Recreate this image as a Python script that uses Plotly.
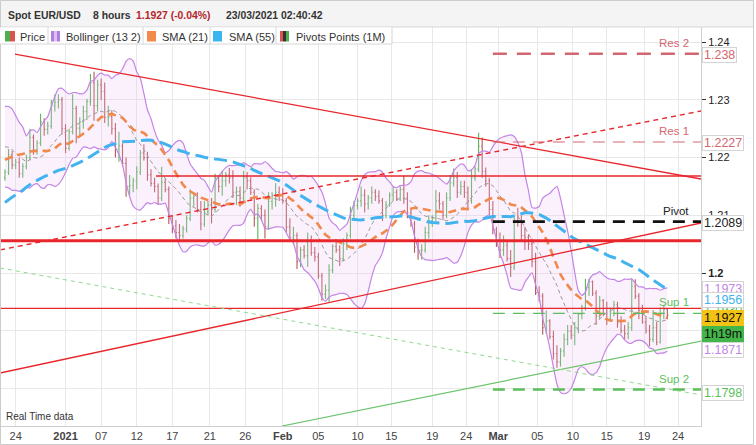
import plotly.graph_objects as go
import pandas as pd
import numpy as np

# ---------------- DATA (8-hour bars, EUR/USD) ----------------
# Dec23 Dec24 | Dec28..Dec31 | Jan4..8 | Jan11..15 | Jan18..22 | Jan25..29 | Feb1..5 | Feb8..12 | Feb15..19 | Feb22..26 | Mar1..5 | Mar8..12 | Mar15..19 | Mar22 Mar23
open_ = [
    1.2165, 1.2175, 1.2205,  1.2187, 1.2192, 1.2172,
    1.2185, 1.2200, 1.2235,  1.2214, 1.2225, 1.2262,  1.2249, 1.2255, 1.2290,  1.2296, 1.2300, 1.2250,
    1.2216, 1.2245, 1.2285,  1.2251, 1.2262, 1.2280,  1.2297, 1.2330, 1.2290,  1.2326, 1.2315, 1.2270,  1.2271, 1.2250, 1.2215,
    1.2220, 1.2190, 1.2150,  1.2152, 1.2160, 1.2175,  1.2208, 1.2200, 1.2170,  1.2155, 1.2150, 1.2130,  1.2157, 1.2145, 1.2095,
    1.2082, 1.2070, 1.2065,  1.2076, 1.2095, 1.2130,  1.2133, 1.2110, 1.2085,  1.2106, 1.2118, 1.2110,  1.2165, 1.2150, 1.2160,
    1.2170, 1.2165, 1.2140,  1.2141, 1.2130, 1.2165,  1.2160, 1.2140, 1.2095,  1.2112, 1.2100, 1.2080,  1.2124, 1.2135, 1.2140,
    1.2136, 1.2125, 1.2080,  1.2061, 1.2065, 1.2020,  1.2040, 1.2030, 1.2055,  1.2035, 1.2028, 1.1995,  1.1963, 1.1970, 1.2005,
    1.2046, 1.2040, 1.2025,  1.2050, 1.2065, 1.2100,  1.2117, 1.2125, 1.2135,  1.2120, 1.2130, 1.2140,  1.2133, 1.2125, 1.2100,
    1.2118, 1.2135, 1.2140,  1.2130, 1.2145, 1.2130,  1.2104, 1.2085, 1.2045,  1.2039, 1.2040, 1.2070,  1.2091, 1.2095, 1.2125,
    1.2120, 1.2100, 1.2130,  1.2156, 1.2165, 1.2140,  1.2150, 1.2140, 1.2125,  1.2165, 1.2180, 1.2220,  1.2176, 1.2160, 1.2110,
    1.2075, 1.2055, 1.2040,  1.2048, 1.2025, 1.2010,  1.2091, 1.2090, 1.2065,  1.2062, 1.2050, 1.2020,  1.1966, 1.1960, 1.1905,
    1.1917, 1.1890, 1.1860,  1.1846, 1.1865, 1.1885,  1.1899, 1.1892, 1.1905,  1.1928, 1.1940, 1.1975,  1.1985, 1.1965, 1.1925,
    1.1952, 1.1930, 1.1920,  1.1930, 1.1945, 1.1915,  1.1900, 1.1895, 1.1905,  1.1977, 1.1960, 1.1935,  1.1915, 1.1900, 1.1885,
    1.1905, 1.1880, 1.1930,  1.1937,
]
high_ = [
    1.2180, 1.2215, 1.2212,  1.2198, 1.2200, 1.2190,
    1.2205, 1.2250, 1.2240,  1.2230, 1.2276, 1.2268,  1.2262, 1.2300, 1.2310,  1.2310, 1.2305, 1.2258,
    1.2250, 1.2310, 1.2290,  1.2270, 1.2290, 1.2302,  1.2345, 1.2349, 1.2335,  1.2337, 1.2330, 1.2290,  1.2282, 1.2260, 1.2245,
    1.2225, 1.2200, 1.2170,  1.2165, 1.2185, 1.2213,  1.2223, 1.2210, 1.2180,  1.2165, 1.2155, 1.2184,  1.2164, 1.2150, 1.2100,
    1.2092, 1.2085, 1.2082,  1.2100, 1.2145, 1.2140,  1.2140, 1.2125, 1.2125,  1.2125, 1.2130, 1.2172,  1.2170, 1.2177, 1.2175,
    1.2182, 1.2178, 1.2150,  1.2150, 1.2177, 1.2175,  1.2166, 1.2145, 1.2120,  1.2118, 1.2110, 1.2140,  1.2140, 1.2156, 1.2150,
    1.2147, 1.2130, 1.2095,  1.2080, 1.2070, 1.2045,  1.2048, 1.2070, 1.2065,  1.2045, 1.2035, 1.2000,  1.1980, 1.2015, 1.2050,
    1.2058, 1.2048, 1.2060,  1.2070, 1.2115, 1.2125,  1.2130, 1.2150, 1.2145,  1.2135, 1.2150, 1.2145,  1.2143, 1.2130, 1.2125,
    1.2140, 1.2150, 1.2145,  1.2150, 1.2169, 1.2140,  1.2110, 1.2090, 1.2060,  1.2050, 1.2080, 1.2100,  1.2100, 1.2144, 1.2140,
    1.2125, 1.2140, 1.2170,  1.2181, 1.2175, 1.2160,  1.2160, 1.2150, 1.2180,  1.2185, 1.2243, 1.2235,  1.2183, 1.2165, 1.2125,
    1.2080, 1.2070, 1.2065,  1.2055, 1.2040, 1.2100,  1.2113, 1.2100, 1.2080,  1.2067, 1.2060, 1.2035,  1.1977, 1.1965, 1.1935,
    1.1920, 1.1900, 1.1875,  1.1870, 1.1895, 1.1910,  1.1910, 1.1915, 1.1930,  1.1945, 1.1990, 1.1990,  1.1987, 1.1970, 1.1960,
    1.1955, 1.1950, 1.1940,  1.1952, 1.1950, 1.1925,  1.1910, 1.1915, 1.1990,  1.1989, 1.1965, 1.1945,  1.1925, 1.1910, 1.1936,
    1.1915, 1.1940, 1.1945,  1.1939,
]
low_ = [
    1.2160, 1.2170, 1.2180,  1.2180, 1.2165, 1.2165,
    1.2180, 1.2195, 1.2205,  1.2205, 1.2220, 1.2238,  1.2240, 1.2250, 1.2280,  1.2285, 1.2240, 1.2208,
    1.2212, 1.2240, 1.2225,  1.2238, 1.2250, 1.2265,  1.2290, 1.2264, 1.2280,  1.2300, 1.2260, 1.2254,  1.2240, 1.2200, 1.2193,
    1.2185, 1.2132, 1.2135,  1.2140, 1.2145, 1.2170,  1.2195, 1.2160, 1.2150,  1.2140, 1.2118, 1.2125,  1.2140, 1.2085, 1.2069,
    1.2060, 1.2054, 1.2060,  1.2070, 1.2090, 1.2115,  1.2105, 1.2074, 1.2080,  1.2100, 1.2086, 1.2105,  1.2140, 1.2134, 1.2150,
    1.2155, 1.2130, 1.2118,  1.2115, 1.2125, 1.2145,  1.2135, 1.2080, 1.2058,  1.2090, 1.2060, 1.2075,  1.2110, 1.2115, 1.2125,
    1.2120, 1.2070, 1.2055,  1.2050, 1.2007, 1.2010,  1.2025, 1.2011, 1.2030,  1.2020, 1.1990, 1.1952,  1.1955, 1.1950, 1.2000,
    1.2035, 1.2012, 1.2020,  1.2040, 1.2060, 1.2095,  1.2110, 1.2115, 1.2105,  1.2110, 1.2120, 1.2125,  1.2120, 1.2090, 1.2095,
    1.2115, 1.2125, 1.2125,  1.2125, 1.2120, 1.2095,  1.2080, 1.2035, 1.2023,  1.2023, 1.2035, 1.2060,  1.2080, 1.2090, 1.2110,
    1.2092, 1.2095, 1.2125,  1.2150, 1.2130, 1.2135,  1.2130, 1.2110, 1.2120,  1.2160, 1.2175, 1.2165,  1.2150, 1.2100, 1.2067,
    1.2045, 1.2026, 1.2030,  1.2020, 1.1993, 1.2005,  1.2080, 1.2055, 1.2040,  1.2040, 1.2010, 1.1962,  1.1950, 1.1893, 1.1895,
    1.1885, 1.1850, 1.1836,  1.1838, 1.1855, 1.1875,  1.1885, 1.1875, 1.1895,  1.1920, 1.1935, 1.1960,  1.1960, 1.1910, 1.1920,
    1.1925, 1.1910, 1.1915,  1.1925, 1.1905, 1.1895,  1.1885, 1.1885, 1.1900,  1.1955, 1.1920, 1.1912,  1.1895, 1.1873, 1.1880,
    1.1875, 1.1878, 1.1920,  1.1920,
]
close_ = [
    1.2175, 1.2205, 1.2187,  1.2192, 1.2172, 1.2185,
    1.2200, 1.2235, 1.2214,  1.2225, 1.2262, 1.2249,  1.2255, 1.2290, 1.2296,  1.2300, 1.2250, 1.2216,
    1.2245, 1.2285, 1.2251,  1.2262, 1.2280, 1.2297,  1.2330, 1.2290, 1.2326,  1.2315, 1.2270, 1.2271,  1.2250, 1.2215, 1.2220,
    1.2190, 1.2150, 1.2152,  1.2160, 1.2175, 1.2208,  1.2200, 1.2170, 1.2155,  1.2150, 1.2130, 1.2157,  1.2145, 1.2095, 1.2082,
    1.2070, 1.2065, 1.2076,  1.2095, 1.2130, 1.2133,  1.2110, 1.2085, 1.2106,  1.2118, 1.2110, 1.2165,  1.2150, 1.2160, 1.2170,
    1.2165, 1.2140, 1.2141,  1.2130, 1.2165, 1.2160,  1.2140, 1.2095, 1.2112,  1.2100, 1.2080, 1.2124,  1.2135, 1.2140, 1.2136,
    1.2125, 1.2080, 1.2061,  1.2065, 1.2020, 1.2040,  1.2030, 1.2055, 1.2035,  1.2028, 1.1995, 1.1963,  1.1970, 1.2005, 1.2046,
    1.2040, 1.2025, 1.2050,  1.2065, 1.2100, 1.2117,  1.2125, 1.2135, 1.2120,  1.2130, 1.2140, 1.2133,  1.2125, 1.2100, 1.2118,
    1.2135, 1.2140, 1.2130,  1.2145, 1.2130, 1.2104,  1.2085, 1.2045, 1.2039,  1.2040, 1.2070, 1.2091,  1.2095, 1.2125, 1.2120,
    1.2100, 1.2130, 1.2156,  1.2165, 1.2140, 1.2150,  1.2140, 1.2125, 1.2165,  1.2180, 1.2220, 1.2176,  1.2160, 1.2110, 1.2075,
    1.2055, 1.2040, 1.2048,  1.2025, 1.2010, 1.2091,  1.2090, 1.2065, 1.2062,  1.2050, 1.2020, 1.1966,  1.1960, 1.1905, 1.1917,
    1.1890, 1.1860, 1.1846,  1.1865, 1.1885, 1.1899,  1.1892, 1.1905, 1.1928,  1.1940, 1.1975, 1.1985,  1.1965, 1.1925, 1.1952,
    1.1930, 1.1920, 1.1930,  1.1945, 1.1915, 1.1900,  1.1895, 1.1905, 1.1977,  1.1960, 1.1935, 1.1915,  1.1900, 1.1885, 1.1905,
    1.1880, 1.1930, 1.1937,  1.1927,
]
# closes before the first visible bar (Nov 27 - Dec 22), used only to seed the indicators
pre_close = [
    1.1920, 1.1955, 1.1963,  1.1970, 1.1950, 1.1927,  1.1945, 1.2000, 1.2071,  1.2070, 1.2090, 1.2113,  1.2125, 1.2150, 1.2146,
    1.2155, 1.2140, 1.2120,  1.2130, 1.2115, 1.2107,  1.2110, 1.2095, 1.2100,  1.2110, 1.2090, 1.2078,  1.2085, 1.2105, 1.2135,
    1.2140, 1.2120, 1.2113,  1.2150, 1.2135, 1.2146,  1.2140, 1.2155, 1.2152,  1.2160, 1.2190, 1.2199,  1.2215, 1.2245, 1.2264,
    1.2260, 1.2240, 1.2255,  1.2180, 1.2170, 1.2240,  1.2235, 1.2200, 1.2165,
]

tick_pos = [3, 17, 27, 37, 47, 57.5, 67.5, 78, 88, 99, 108.5, 120, 129.5, 138.5, 149.5, 159.5, 169, 179.5, 189]
tick_text = ['24', '<b>2021</b>', '07', '12', '17', '21', '26', '<b>Feb</b>', '05', '10', '15', '19', '24',
             '<b>Mar</b>', '05', '10', '15', '19', '24']

y_ticks = [1.18, 1.19, 1.20, 1.21, 1.22, 1.23, 1.24]
y_tick_text = ['', '', '<b>1.2</b>', '1.21', '1.22', '1.23', '1.24']

# monthly pivot points
pivot_names = ['Res 2', 'Res 1', 'Pivot', 'Sup 1', 'Sup 2']
pivot_levels = [1.2380, 1.2227, 1.2089, 1.1930, 1.1798]
pivot_start = 137

# drawn trend lines (bar index, price)
trend_x0 = [2.8, 42.4, -1.4, -1.4, -1.4, -1.4, 77.8, -1.4]
trend_y0 = [1.23795, 1.21681, 1.20560, 1.19388, 1.20399, 1.18267, 1.17348, 1.20087]
trend_x1 = [195.5, 195.5, 195.5, 195.5, 195.5, 195.5, 195.5, 195.5]
trend_y1 = [1.21629, 1.21681, 1.20560, 1.19388, 1.22808, 1.20867, 1.18821, 1.17886]

# value tags on the right axis
tag_text = ['1.238', '1.2227', '1.2089', '1.1973', '1.1930', '1.1956', '1.1927', '1h19m', '1.1871', '1.1798']
tag_value = [1.2380, 1.2227, 1.2089, 1.1973, 1.1930, 1.1956, 1.1927, 1.1927, 1.1871, 1.1798]

# ---------------- STYLE ----------------
RES = '#d4666f'
SUP = '#5cbf5c'
BB = '#c385e6'
S55 = '#42b3ee'
S21 = '#f0894b'
RED = '#e8262b'
UP = '#5cb35c'
DN = '#b55858'
FONT = 'Liberation Sans, Arial, sans-serif'

X0, X1 = -1.404, 195.45
Y0, Y1 = 1.173484, 1.242634
PW, TOP, BOT = 701.0, 27.0, 426.0


def px(v):
    return v / PW


def py(v):
    return (BOT - v) / (BOT - TOP)


# ---------------- INDICATORS ----------------
n = len(close_)
xs = list(range(n))
full = pd.Series(pre_close + close_)
k = len(pre_close)
sma21 = full.rolling(21).mean().iloc[k:].to_numpy()
sma55 = full.rolling(55).mean().iloc[k:].to_numpy()
mid = full.rolling(13).mean().iloc[k:].to_numpy()
sd = full.rolling(13).std(ddof=0).iloc[k:].to_numpy()
bb_up = mid + 2 * sd
bb_lo = mid - 2 * sd

fig = go.Figure()
fig.add_trace(go.Scatter(x=xs, y=bb_lo, mode='lines', line=dict(color=BB, width=1.2, shape='spline', smoothing=0.6),
                         hoverinfo='skip'))
fig.add_trace(go.Scatter(x=xs, y=bb_up, mode='lines', line=dict(color=BB, width=1.2, shape='spline', smoothing=0.6),
                         fill='tonexty', fillcolor='rgba(235,190,240,0.22)', hoverinfo='skip'))
fig.add_trace(go.Scatter(x=xs, y=mid, mode='lines', line=dict(color='#9a9a9a', width=1, dash='4px,3px'),
                         hoverinfo='skip'))
fig.add_trace(go.Ohlc(x=xs, open=open_, high=high_, low=low_, close=close_, tickwidth=0.3,
                      increasing=dict(line=dict(color=UP, width=1.1)),
                      decreasing=dict(line=dict(color=DN, width=1.1)), hoverinfo='skip'))
fig.add_trace(go.Scatter(x=xs, y=sma21, mode='lines', line=dict(color=S21, width=2.6, dash='8px,5px'),
                         hoverinfo='skip'))
fig.add_trace(go.Scatter(x=xs, y=sma55, mode='lines', line=dict(color=S55, width=3, dash='13px,6px'),
                         hoverinfo='skip'))

trend_style = [
    dict(color=RED, width=1.3),
    dict(color=RED, width=1.3),
    dict(color=RED, width=3),
    dict(color=RED, width=1.3),
    dict(color=RED, width=1.3, dash='5px,4px'),
    dict(color=RED, width=1.3),
    dict(color='#6cc46c', width=1.2),
    dict(color='#8fd88f', width=1, dash='4px,4px'),
]
for a, b, c, d, st in zip(trend_x0, trend_y0, trend_x1, trend_y1, trend_style):
    fig.add_trace(go.Scatter(x=[a, c], y=[b, d], mode='lines', line=st, hoverinfo='skip'))

pivot_style = [
    dict(color=RES, width=2.6, dash='14px,10px'),
    dict(color=RES, width=1.2, dash='12px,8px'),
    dict(color='#111111', width=2.6, dash='12px,8px'),
    dict(color=SUP, width=1.2, dash='12px,8px'),
    dict(color=SUP, width=2.6, dash='12px,8px'),
]
pivot_text_color = [RES, RES, '#222222', SUP, SUP]
for name, lvl, st, tc in zip(pivot_names, pivot_levels, pivot_style, pivot_text_color):
    fig.add_trace(go.Scatter(x=[pivot_start, X1], y=[lvl, lvl], mode='lines', line=st, hoverinfo='skip'))
    fig.add_annotation(x=192.6, y=lvl, xref='x', yref='y', text=name, showarrow=False, xanchor='right',
                       yanchor='bottom', yshift=3, font=dict(family=FONT, size=11.5, color=tc))

# right-hand value tags
tag_color = [RES, RES, '#222222', BB, SUP, S55, '#111111', '#111111', BB, SUP]
tag_bg = ['white'] * 6 + ['#f2c314', '#43b649'] + ['white'] * 2
tag_border = ['#d4d4d4'] * 6 + ['#f2c314', '#43b649'] + ['#d4d4d4'] * 2
tag_shift = [-1, -1, -1, 0, 3, -1.5, -2.5, -18.6, -2.6, -3.4]
for t, v, c, bg, bc, sh in zip(tag_text, tag_value, tag_color, tag_bg, tag_border, tag_shift):
    fig.add_annotation(x=1.0, y=v, xref='paper', yref='y', text=t, showarrow=False, xanchor='left',
                       yanchor='middle', yshift=sh, xshift=1, align='left', bgcolor=bg, bordercolor=bc,
                       borderwidth=1, borderpad=1, height=12,
                       font=dict(family=FONT, size=12.5, color=c))

# ---------------- FRAME, TITLE BAR, LEGEND ----------------
shapes = []
shapes.append(dict(type='rect', xref='paper', yref='paper', x0=px(0), x1=px(754), y0=py(27), y1=py(0),
                   fillcolor='#f4f4f4', line=dict(width=0), layer='above'))
shapes.append(dict(type='line', xref='paper', yref='paper', x0=px(0), x1=px(754), y0=py(27), y1=py(27),
                   line=dict(color='#d6d6d6', width=1), layer='above'))
shapes.append(dict(type='rect', xref='paper', yref='paper', x0=px(0.5), x1=px(753.5), y0=py(444.5), y1=py(0.5),
                   line=dict(color='#cccccc', width=1), layer='above'))
# legend strip
shapes.append(dict(type='rect', xref='paper', yref='paper', x0=px(0), x1=px(392), y0=py(44), y1=py(27.5),
                   fillcolor='white', line=dict(width=0), layer='above'))
shapes.append(dict(type='line', xref='paper', yref='paper', x0=px(0), x1=px(392), y0=py(44), y1=py(44),
                   line=dict(color='#d6d6d6', width=1), layer='above'))
for sx in [48, 143, 210, 276, 392]:
    shapes.append(dict(type='line', xref='paper', yref='paper', x0=px(sx), x1=px(sx), y0=py(44), y1=py(27),
                       line=dict(color='#d6d6d6', width=1), layer='above'))

legend_icons = [
    (5, 10, '#4cae4c'), (10, 15, '#d9534f'),
    (51, 54, '#b07de0'), (54, 57, '#dcc0f2'), (57, 60, '#b07de0'),
    (147, 156, '#f28a4c'),
    (213, 222, '#3db4f2'),
    (280, 283, '#d9534f'), (283, 286, '#333333'), (286, 289, '#4cae4c'),
]
for a, b, c in legend_icons:
    shapes.append(dict(type='rect', xref='paper', yref='paper', x0=px(a), x1=px(b), y0=py(41.5), y1=py(31),
                       fillcolor=c, line=dict(width=0), layer='above'))

legend_labels = ['Price', 'Bollinger (13 2)', 'SMA (21)', 'SMA (55)', 'Pivots Points (1M)']
legend_x = [18, 64, 160, 227, 294]
for t, lx in zip(legend_labels, legend_x):
    fig.add_annotation(x=px(lx), y=py(36.5), xref='paper', yref='paper', text=t, showarrow=False,
                       xanchor='left', yanchor='middle', font=dict(family=FONT, size=11, color='#333'))

title_parts = ['Spot EUR/USD', '8 hours', '1.1927 (-0.04%)', '23/03/2021 02:40:42']
title_x = [6, 91, 134, 224]
title_col = ['#333333', '#333333', '#b3262b', '#333333']
for t, tx, tc in zip(title_parts, title_x, title_col):
    fig.add_annotation(x=px(tx), y=py(15), xref='paper', yref='paper', text='<b>' + t + '</b>', showarrow=False,
                       xanchor='left', yanchor='middle', font=dict(family=FONT, size=10.4, color=tc))

fig.add_annotation(x=px(4), y=py(416.5), xref='paper', yref='paper', text='Real Time data', showarrow=False,
                   xanchor='left', yanchor='middle', font=dict(family=FONT, size=10, color='#333'))

fig.update_layout(
    width=756, height=445,
    margin=dict(l=0, r=55, t=27, b=19),
    paper_bgcolor='white', plot_bgcolor='white',
    showlegend=False, hovermode=False,
    font=dict(family=FONT, size=11, color='#333'),
    shapes=shapes,
)
fig.update_xaxes(range=[X0, X1], tickvals=tick_pos, ticktext=tick_text, showgrid=True, gridcolor='#e8e8e8',
                 gridwidth=1, zeroline=False, showline=True, linecolor='#cfcfcf', ticks='',
                 tickfont=dict(family=FONT, size=11, color='#444'), rangeslider=dict(visible=False),
                 fixedrange=True)
fig.update_yaxes(range=[Y0, Y1], side='right', tickvals=y_ticks, ticktext=y_tick_text, showgrid=True,
                 gridcolor='#e8e8e8', zeroline=False, showline=True, linecolor='#cfcfcf', ticks='outside',
                 ticklen=4, tickcolor='#333', tickfont=dict(family=FONT, size=11, color='#222'), fixedrange=True)

fig.write_html('out.html')
